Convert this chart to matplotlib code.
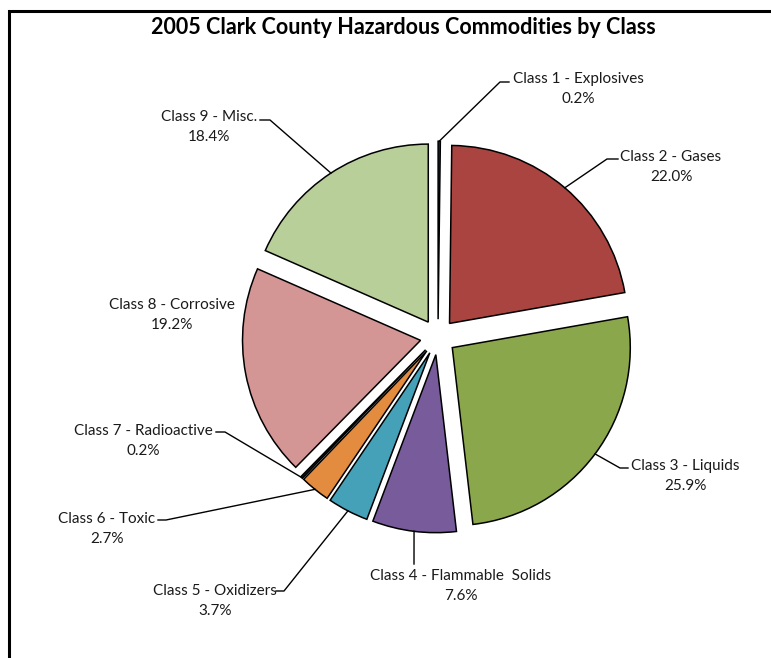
import matplotlib
matplotlib.use("Agg")
import matplotlib.pyplot as plt
import numpy as np

# data
classes = ["Class 1 - Explosives", "Class 2 - Gases", "Class 3 - Liquids",
           "Class 4 - Flammable  Solids", "Class 5 - Oxidizers", "Class 6 - Toxic",
           "Class 7 - Radioactive", "Class 8 - Corrosive", "Class 9 - Misc."]
shares = [0.2, 22.0, 25.9, 7.6, 3.7, 2.7, 0.2, 19.2, 18.4]
colors = ["#1f3f6e", "#a94441", "#8ba74c", "#775b9a", "#45a1b8",
          "#e38b3e", "#1a1a1a", "#d49695", "#b9cf99"]

W, H = 771, 658

# label layout in pixel coords: text centre, leader start, leader knee
text_pos = [(578, 89), (671, 167), (685, 476), (461, 586), (215, 601),
            (107, 529), (143, 441), (172, 315), (209, 127)]
leader_start = [(509, 82), (618, 159), (628, 468), (414, 564), (276, 591),
                (158, 520), (216, 432), None, (260, 120)]
leader_knee = [(500, 82), (607, 159), (620, 468), None, (284, 591),
               (166, 520), (225, 432), None, (270, 120)]

plt.rcParams['font.family'] = ['Lato', 'DejaVu Sans']

fig = plt.figure(figsize=(W / 100, H / 100), dpi=100)
ax = fig.add_axes([0, 0, 1, 1])

cx, cy, rad = 438, H - 337, 178
# explode is in data units here since radius is in pixels
wedges, _ = ax.pie(shares, explode=[0.1 * rad] * len(shares), colors=colors,
                   startangle=90, counterclock=False, center=(cx, cy), radius=rad,
                   wedgeprops=dict(edgecolor="black", linewidth=1.1))
ax.set_xlim(0, W)
ax.set_ylim(0, H)
ax.set_aspect("equal")
ax.axis("off")

for i, w in enumerate(wedges):
    mid = np.deg2rad((w.theta1 + w.theta2) / 2)
    wx, wy = w.center
    end = (wx + w.r * np.cos(mid), wy + w.r * np.sin(mid))
    tx, ty = text_pos[i]
    ax.text(tx, H - ty, f"{classes[i]}\n{shares[i]:.1f}%", ha="center", va="center",
            fontsize=11, color="#1a1a1a", linespacing=1.6)
    if leader_start[i] is not None:
        pts = [leader_start[i]]
        if leader_knee[i] is not None:
            pts.append(leader_knee[i])
        xs = [p[0] for p in pts] + [end[0]]
        ys = [H - p[1] for p in pts] + [end[1]]
        ax.plot(xs, ys, color="black", linewidth=1.0)

ax.text(403, H - 27, "2005 Clark County Hazardous Commodities by Class",
        ha="center", va="center", fontsize=15.5, fontweight="bold", color="black")

# outer frame (top and left edges visible)
ax.plot([9, 9, W], [0, H - 11, H - 11], color="black", linewidth=2.2,
        solid_joinstyle="miter")

fig.savefig("out.png", dpi=100)
